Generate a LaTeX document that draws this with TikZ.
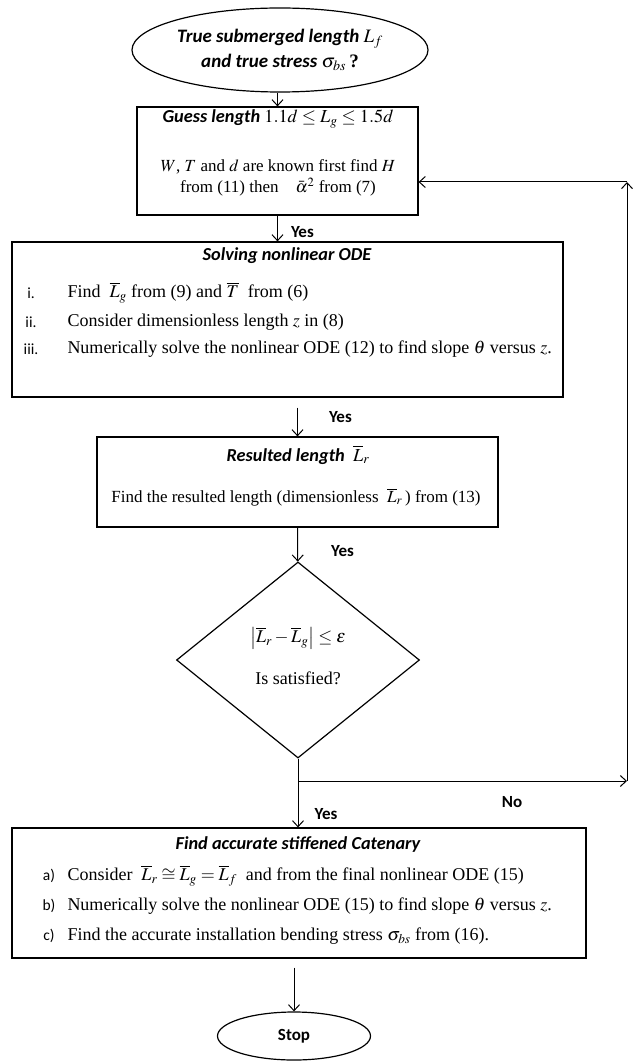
\documentclass[tikz,border=0pt]{standalone}
\usepackage{amsmath}
\usepackage{mathptmx}
\usepackage{fontspec}
\setmainfont{Liberation Serif}
\newfontfamily\calfont{Carlito}
\usetikzlibrary{arrows.meta, positioning, shapes.geometric, fit, calc}

\begin{document}
\begin{tikzpicture}[x=1pt, y=-1pt, >={Straight Barb[length=6pt,width=11pt]},
        line width=1pt,
        blk/.style={draw, line width=1.2pt, inner sep=0pt},
        term/.style={draw, ellipse, line width=1.2pt, inner sep=0pt, align=center},
        dec/.style={draw, diamond, line width=1.2pt, inner sep=0pt},
        head/.style={inner sep=1pt, font=\calfont\bfseries\itshape\fontsize{18.3}{22}\selectfont},
        txt/.style={inner sep=0pt, font=\fontsize{18}{20}\selectfont},
        itm/.style={inner sep=1pt, font=\calfont\fontsize{15.5}{18}\selectfont},
        lbl/.style={inner sep=1pt, font=\calfont\bfseries\fontsize{17}{19}\selectfont}]

      \useasboundingbox (0,0) rectangle (633,1064);

      % start
      \node[term, head, font=\calfont\bfseries\itshape\fontsize{19}{22}\selectfont,
            minimum width=296pt, minimum height=84pt] (start) at (280,50)
            {True submerged length $L_f$\\[3pt] and true stress $\sigma_{bs}$\,{\normalfont\bfseries ?}};

      % guess
      \node[blk, fit={(137,107) (418,215)}] (guess) {};
      \node[head] (guesst) at (278,119) {Guess length {\normalfont $1.1d \le L_g \le 1.5d$}};
      \node[txt, align=center, font=\fontsize{17}{21}\selectfont] (guessb) at (278,178)
            {$W$, $T$ and $d$ are known first find $H$\\ from (11) then\quad $\bar{\alpha}^2$ from (7)};

      % solving ODE
      \node[blk, fit={(12,242) (563,397)}] (solve) {};
      \node[head] (solvet) at (287,256) {Solving nonlinear ODE};
      \node[itm] (s1m) at (31,293) {i.};
      \node[itm] (s2m) at (31,322) {ii.};
      \node[itm] (s3m) at (31,349) {iii.};
      \node[txt, anchor=west] (s1) at (67,293) {Find\ \ $\overline{L}_g$ from (9) and $\overline{T}$\ \ from (6)};
      \node[txt, anchor=west] (s2) at (67,322) {Consider dimensionless length $z$ in (8)};
      \node[txt, anchor=west] (s3) at (67,349) {Numerically solve the nonlinear ODE (12) to find slope\ $\theta$ versus $z$.};

      % resulted length
      \node[blk, fit={(97,437) (498,527)}] (result) {};
      \node[head] (resultt) at (298,455) {Resulted length\ \ {\normalfont $\overline{L}_r$}};
      \node[txt, font=\fontsize{17}{20}\selectfont] (resultb) at (296,497)
            {Find the resulted length (dimensionless\ \ $\overline{L}_r$\,) from (13)};

      % check
      \node[dec, minimum width=243pt, minimum height=196pt] (check) at (298,660) {};
      \node[txt] (checkf) at (298,638) {$\left|\overline{L}_r-\overline{L}_g\right|\le\varepsilon$};
      \node[txt] (checkq) at (298,678) {Is satisfied?};

      % final
      \node[blk, fit={(12,828) (586,958)}] (final) {};
      \node[head] (finalt) at (298,845) {Find accurate stiffened Catenary};
      \node[itm] (f1m) at (49,876) {a)};
      \node[itm] (f2m) at (49,906) {b)};
      \node[itm] (f3m) at (49,936) {c)};
      \node[txt, anchor=west] (f1) at (67,876) {Consider\ \ $\overline{L}_r\cong\overline{L}_g=\overline{L}_f$\ \ and from the final nonlinear ODE (15)};
      \node[txt, anchor=west] (f2) at (67,906) {Numerically solve the nonlinear ODE (15) to find slope\ $\theta$ versus $z$.};
      \node[txt, anchor=west] (f3) at (67,936) {Find the accurate installation bending stress $\sigma_{bs}$ from (16).};

      \node[term, lbl, minimum width=153pt, minimum height=48pt] (stop) at (294,1036) {Stop};

      \coordinate (brn) at (298,781);
      \coordinate (brr) at (627,781);
      \coordinate (brt) at (627,182);

      \draw[->] (start.south -| guess.north) -- (guess.north);
      \draw[->] (guess.south) -- (guess.south |- solve.north)
            node[lbl, pos=0.65, right=12pt] (yes1) {Yes};
      \draw[->, shorten <=10pt] (solve.south -| result.north) -- (result.north)
            node[lbl, midway, right=30pt] (yes2) {Yes};
      \draw[->] (result) -- (check)
            node[lbl, pos=0.7, right=32pt] (yes3) {Yes};
      \draw[->] (check.south) -- (check.south |- final.north);
      \node[lbl] (yes4) at (326,814) {Yes};
      \draw[->] (brn) -- (brr);
      \draw[->] (brr) -- (brt);
      \draw[->] (brt) -- (brt -| guess.east);
      \node[lbl] (no) at (512,802) {No};
      \draw[->, shorten <=9pt] (final.south -| stop.north) -- (stop.north);
    \end{tikzpicture}
\end{document}
